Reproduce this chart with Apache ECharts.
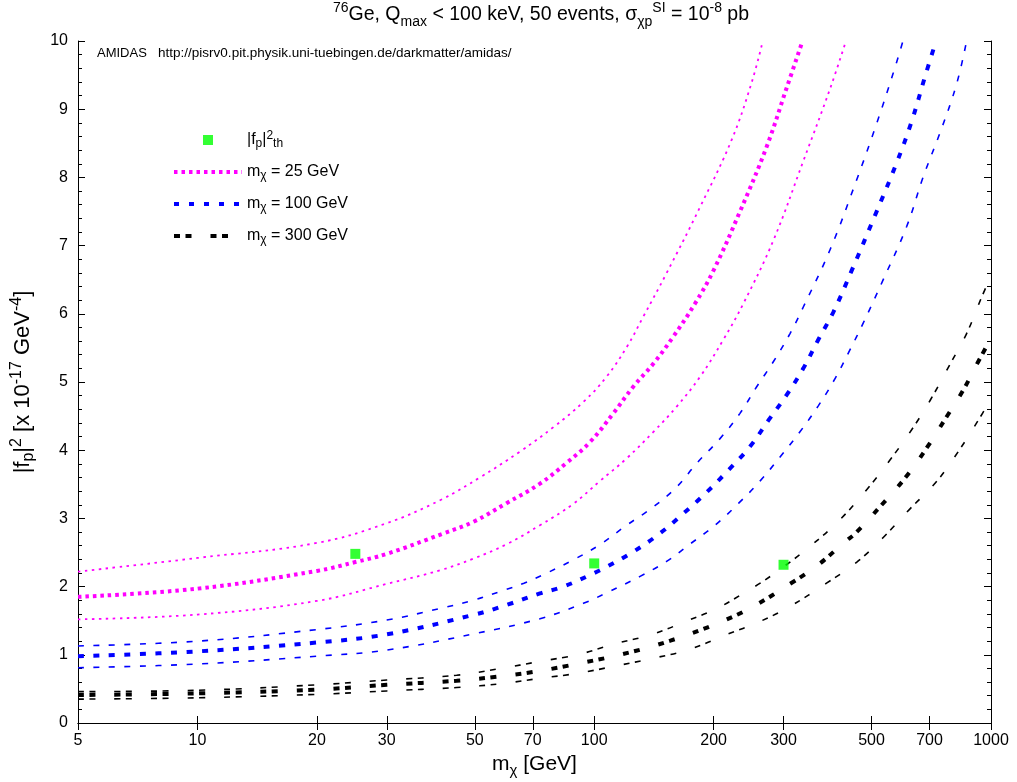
<!DOCTYPE html>
<html><head><meta charset="utf-8">
<script src="https://cdn.jsdelivr.net/npm/echarts@6/dist/echarts.min.js"></script>
<style>html,body{margin:0;padding:0;background:#fff}#c{width:1017px;height:782px}</style>
</head><body><div id="c"></div>
<script>
// ---- data ----
const xTickValues = [5, 10, 20, 30, 50, 70, 100, 200, 300, 500, 700, 1000];
const yTickMin = 0, yTickMax = 10, yTickStep = 1;

const thMass = [25, 100, 300];
const thFp2  = [2.48, 2.34, 2.32];

const m25UpX  = [5, 10, 20, 30, 41, 51.5, 65, 79, 94, 107.5, 121, 133, 152, 185, 222, 249, 266];
const m25UpY  = [2.22, 2.42, 2.64, 2.93, 3.27, 3.60, 3.98, 4.34, 4.71, 5.08, 5.52, 5.96, 6.59, 7.57, 8.55, 9.38, 10.0];
const m25MidX = [5, 10, 20, 25, 30, 41.7, 49.6, 60, 73, 85, 97.6, 111.7, 125.4, 141, 158, 179.5, 200, 233, 272, 305, 335];
const m25MidY = [1.85, 1.97, 2.23, 2.36, 2.48, 2.78, 2.95, 3.22, 3.51, 3.81, 4.12, 4.54, 4.93, 5.27, 5.66, 6.15, 6.64, 7.50, 8.45, 9.30, 10.0];
const m25LoX  = [5, 10, 20, 30, 40.9, 49.6, 60.1, 73, 88.4, 103, 120.7, 141, 161.4, 185, 211.5, 237.6, 283, 337, 393, 431];
const m25LoY  = [1.52, 1.59, 1.79, 2.04, 2.24, 2.41, 2.62, 2.90, 3.21, 3.54, 3.88, 4.27, 4.64, 5.08, 5.62, 6.15, 7.08, 8.25, 9.30, 10.0];

const m100UpX  = [5, 10, 20, 30, 40.9, 49.6, 58.1, 66.5, 76, 88.4, 103, 120.7, 141, 161.4, 181.4, 207.5, 233, 256.7, 283, 311.5, 336.5, 393, 459, 515, 567, 600];
const m100UpY  = [1.13, 1.20, 1.37, 1.51, 1.68, 1.80, 1.93, 2.05, 2.20, 2.39, 2.61, 2.90, 3.17, 3.46, 3.81, 4.17, 4.54, 4.93, 5.30, 5.71, 6.10, 6.94, 7.97, 8.79, 9.53, 10.0];
const m100MidX = [5, 10, 20, 30, 50, 60.1, 73, 83.6, 97.6, 107.5, 125.4, 146.4, 167.6, 191.8, 218, 246.7, 275, 305.5, 336.5, 367, 401, 446, 515, 578, 631, 682, 727];
const m100MidY = [0.98, 1.05, 1.18, 1.30, 1.59, 1.73, 1.90, 2.00, 2.17, 2.29, 2.51, 2.78, 3.07, 3.38, 3.71, 4.05, 4.44, 4.81, 5.20, 5.62, 6.03, 6.64, 7.50, 8.21, 8.82, 9.48, 10.0];
const m100LoX  = [5, 10, 20, 30, 50, 73, 93.9, 108.5, 130.5, 152.2, 174, 201.6, 231, 262, 294, 330, 367, 404.5, 441, 476, 535, 613, 675, 751, 820, 868];
const m100LoY  = [0.81, 0.865, 0.98, 1.07, 1.31, 1.53, 1.755, 1.92, 2.15, 2.37, 2.62, 2.90, 3.22, 3.55, 3.90, 4.27, 4.65, 5.05, 5.47, 5.86, 6.50, 7.28, 8.01, 8.72, 9.38, 10.0];

const m300UpX  = [5, 10, 20, 30, 45, 58, 72.5, 92, 112.5, 140, 170, 207, 242, 262, 300, 350, 416, 486, 557, 631, 704, 790, 868, 948, 1000];
const m300UpY  = [0.46, 0.48, 0.56, 0.63, 0.70, 0.80, 0.90, 1.01, 1.16, 1.30, 1.49, 1.70, 1.93, 2.05, 2.29, 2.59, 2.98, 3.42, 3.86, 4.30, 4.74, 5.27, 5.71, 6.25, 6.55];
const m300MidX = [5, 10, 20, 30, 45, 61, 74, 92, 114, 141, 173, 212, 252, 311.5, 367, 429, 455, 525, 607, 688, 773, 851, 929, 1000];
const m300MidY = [0.41, 0.435, 0.49, 0.56, 0.62, 0.70, 0.77, 0.875, 0.99, 1.13, 1.30, 1.50, 1.71, 2.04, 2.32, 2.66, 2.78, 3.17, 3.59, 4.03, 4.49, 4.88, 5.30, 5.64];
const m300LoX  = [5, 10, 20, 30, 45, 59, 73, 91, 114, 141, 174, 214, 262, 311.5, 385, 459, 535, 625, 729, 827, 929, 1000];
const m300LoY  = [0.35, 0.37, 0.42, 0.47, 0.52, 0.58, 0.655, 0.73, 0.84, 0.95, 1.08, 1.29, 1.49, 1.71, 2.05, 2.36, 2.72, 3.14, 3.54, 3.98, 4.44, 4.75];

const legendNames = ['fp2th', 'm25', 'm100', 'm300'];

// ---- helpers ----
const FONT = "'Liberation Sans', Arial, sans-serif";
function pairs(xs, ys) { return xs.map((x, i) => [x, ys[i]]); }
function lineSeries(name, xs, ys, color, width, dash) {
  return {
    name: name, type: 'line', data: pairs(xs, ys), smooth: 0.4,
    symbol: 'none', showSymbol: false, silent: true, clip: true,
    xAxisIndex: 0, yAxisIndex: 0,
    lineStyle: { color: color, width: width, type: dash, cap: 'butt' },
    itemStyle: { color: color }, z: 3
  };
}
const MAG = '#ff00ff', BLU = '#0000ff', BLK = '#000000', GRN = '#00ff00';
const dotThin = [2.5, 4.5], dotThick = [3.5, 4];
const dashBlue = [6, 9.5];
const dashBlack = [6, 5.5, 6, 19];

const richBase = (fs, lh) => ({
  n:   { fontSize: fs, fontFamily: FONT, color: '#000', lineHeight: lh, verticalAlign: 'middle' },
  sup: { fontSize: Math.round(fs * 0.72), fontFamily: FONT, color: '#000', lineHeight: Math.round(fs * 0.72), verticalAlign: 'top' },
  sub: { fontSize: Math.round(fs * 0.72), fontFamily: FONT, color: '#000', lineHeight: Math.round(fs * 0.72), verticalAlign: 'bottom' }
});

const legendText = {
  fp2th: '{n||f}{sub|p}{n||}{sup|2}{sub|th}',
  m25:   '{n|m}{sub|χ}{n| = 25 GeV}',
  m100:  '{n|m}{sub|χ}{n| = 100 GeV}',
  m300:  '{n|m}{sub|χ}{n| = 300 GeV}'
};

const chart = echarts.init(document.getElementById('c'), null, { renderer: 'canvas' });
const axisLineStyle = { lineStyle: { color: '#000', width: 1 } };

const option = {
  animation: false,
  backgroundColor: '#fff',
  textStyle: { fontFamily: FONT },
  title: [
    {
      text: '{sup|76}{n|Ge, Q}{sub|max}{n| < 100 keV, 50 events, σ}{sub|χp}{sup|SI}{n| = 10}{sup|-8}{n| pb}',
      left: 541, top: 1, textAlign: 'center', padding: 0,
      textStyle: { fontWeight: 'normal', rich: richBase(19.5, 28) }
    },
    {
      text: '{a|AMIDAS}{b|   http://pisrv0.pit.physik.uni-tuebingen.de/darkmatter/amidas/}',
      left: 97, top: 46, padding: 0,
      textStyle: { fontWeight: 'normal', rich: {
        a: { fontSize: 13, color: '#000', fontFamily: FONT, lineHeight: 15 },
        b: { fontSize: 13.5, color: '#000', fontFamily: FONT, lineHeight: 15 }
      } }
    }
  ],
  legend: {
    orient: 'vertical', left: 172, top: 130, padding: 0,
    itemWidth: 68, itemHeight: 10, itemGap: 14,
    selectedMode: false,
    data: [
      { name: 'fp2th', icon: 'path://M0,0h10v10h-10z' },
      { name: 'm25', itemStyle: { opacity: 0 }, lineStyle: { width: 4, type: dotThick, color: MAG } },
      { name: 'm100', itemStyle: { opacity: 0 }, lineStyle: { width: 4, type: [5, 10], color: BLU } },
      { name: 'm300', itemStyle: { opacity: 0 }, lineStyle: { width: 4, type: dashBlack, color: BLK } }
    ],
    formatter: function (name) { return legendText[name]; },
    textStyle: { padding: [0, 0, 0, 0], rich: richBase(16, 20) }
  },
  grid: { left: 78, right: 26, top: 41, bottom: 59, containLabel: false, outerBoundsMode: 'none' },
  xAxis: [
    {
      type: 'log', logBase: 10, min: 5, max: 1000, position: 'bottom',
      axisLine: axisLineStyle,
      axisTick: { show: true, inside: true, length: 7, lineStyle: { color: '#000' }, customValues: xTickValues },
      axisLabel: { show: true, customValues: xTickValues, color: '#000', fontSize: 16, fontFamily: FONT, margin: 10,
                   formatter: function (v) { return String(Math.round(v)); } },
      minorTick: { show: false }, splitLine: { show: false },
      name: '{n|m}{sub|χ}{n| [GeV]}', nameLocation: 'middle', nameGap: 23,
      nameTextStyle: { rich: richBase(21, 28) }
    },
    {
      type: 'log', logBase: 10, min: 5, max: 1000, position: 'top',
      axisLine: axisLineStyle,
      axisTick: { show: true, inside: true, length: 7, lineStyle: { color: '#000' }, customValues: xTickValues },
      axisLabel: { show: false, customValues: xTickValues },
      splitLine: { show: false }
    }
  ],
  yAxis: [
    {
      type: 'value', min: yTickMin, max: yTickMax, interval: yTickStep, position: 'left',
      axisLine: { show: true, lineStyle: { color: '#000', width: 1 } },
      axisTick: { show: true, inside: true, length: 7, lineStyle: { color: '#000' } },
      minorTick: { show: true, splitNumber: 5, length: 4, lineStyle: { color: '#000' } },
      axisLabel: { color: '#000', fontSize: 16, fontFamily: FONT, margin: 10 },
      splitLine: { show: false },
      name: '{n||f}{sub|p}{n||}{sup|2}{n| [x 10}{sup|-17}{n| GeV}{sup|-4}{n|]}',
      nameLocation: 'middle', nameGap: 41, nameRotate: 90,
      nameTextStyle: { rich: richBase(22, 28) }
    },
    {
      type: 'value', min: yTickMin, max: yTickMax, interval: yTickStep, position: 'right',
      axisLine: { show: true, lineStyle: { color: '#000', width: 1 } },
      axisTick: { show: true, inside: true, length: 7, lineStyle: { color: '#000' } },
      minorTick: { show: true, splitNumber: 5, length: 4, lineStyle: { color: '#000' } },
      axisLabel: { show: false }, splitLine: { show: false }
    }
  ],
  series: [
    {
      name: 'fp2th', type: 'scatter', data: pairs(thMass, thFp2), symbol: 'rect', symbolSize: 10,
      itemStyle: { color: GRN }, z: 5, silent: true
    },
    lineSeries('m25', m25MidX, m25MidY, MAG, 4, dotThick),
    lineSeries('m25u', m25UpX, m25UpY, MAG, 1.8, dotThin),
    lineSeries('m25l', m25LoX, m25LoY, MAG, 1.8, dotThin),
    lineSeries('m100', m100MidX, m100MidY, BLU, 4, dashBlue),
    lineSeries('m100u', m100UpX, m100UpY, BLU, 1.6, dashBlue),
    lineSeries('m100l', m100LoX, m100LoY, BLU, 1.6, dashBlue),
    lineSeries('m300', m300MidX, m300MidY, BLK, 4, dashBlack),
    lineSeries('m300u', m300UpX, m300UpY, BLK, 1.6, dashBlack),
    lineSeries('m300l', m300LoX, m300LoY, BLK, 1.6, dashBlack)
  ]
};
chart.setOption(option);
</script>
</body></html>
